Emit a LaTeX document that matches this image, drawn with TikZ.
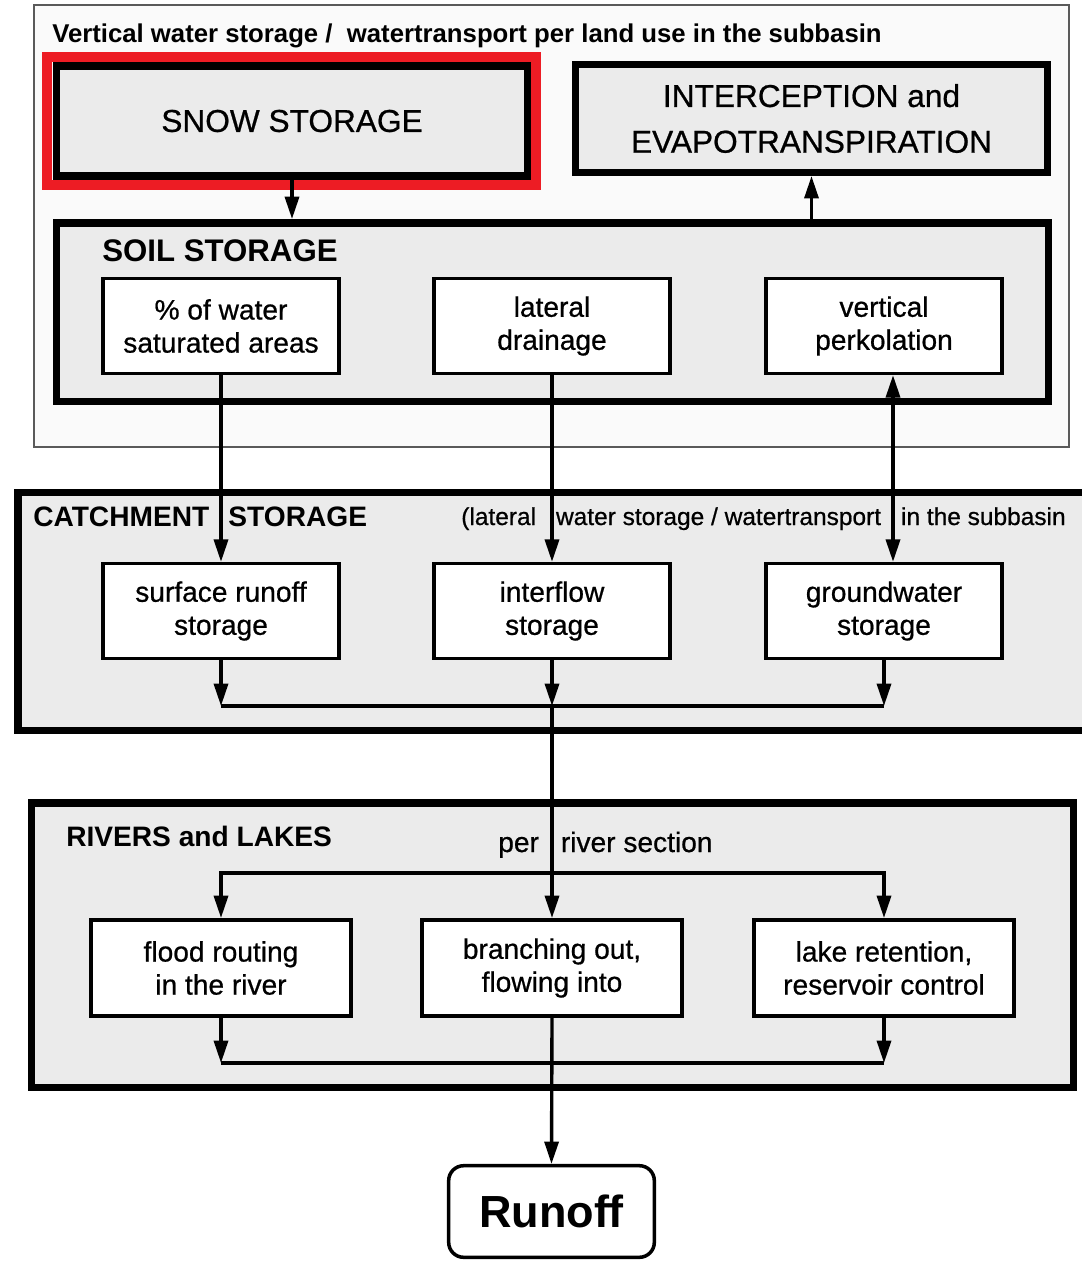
\documentclass[tikz,border=0pt]{standalone}
\usepackage{fontspec}
\setmainfont{Liberation Sans}
\newfontfamily\medfont{Liberation Sans}[FakeBold=0.7]
\usetikzlibrary{positioning,arrows.meta,calc}
\definecolor{boxgray}{HTML}{EBEBEB}
\definecolor{paleback}{HTML}{FAFAFA}
\definecolor{framegray}{HTML}{5A5A5A}
\definecolor{snowred}{HTML}{ED1C24}

\begin{document}
\begin{tikzpicture}[
    x=0.025cm, y=-0.025cm,
    >={Triangle[length=0.56cm,width=0.35cm]},
    every node/.style={inner sep=0pt},
    panel/.style={draw, line width=5.3pt, fill=boxgray},
    bigbox/.style={panel, align=center, font=\medfont\fontsize{22.5}{32.5}\selectfont},
    subbox/.style={
        draw, line width=2.5pt, fill=white, align=center,
        minimum width=5.89cm, minimum height=2.37cm,
        font=\medfont\fontsize{20}{23.5}\selectfont
    },
    paneltitle/.style={anchor=base west, font=\bfseries\fontsize{20}{24}\selectfont},
    note/.style={anchor=base west, font=\medfont\fontsize{17.4}{21}\selectfont},
    arr/.style={->, line width=2.4pt},
    bar/.style={line width=2.4pt},
]
\useasboundingbox (0,0) rectangle (1081,1264);

% === Land use layer (top) ===
\node[draw=framegray, line width=1.1pt, fill=paleback,
    minimum width=25.875cm, minimum height=11.05cm] (landuse) at (551.5,226) {};
\node[anchor=base west, font=\bfseries\fontsize{18.3}{22}\selectfont] (landusetitle) at (52,42)
    {Vertical water storage /~~watertransport per land use in the subbasin};

% Snow storage, marked in red
\node[draw=snowred, line width=7.1pt, minimum width=12.225cm, minimum height=3.2cm] (snowmark) at (291.5,121) {};
\node[bigbox, minimum width=11.76cm, minimum height=2.76cm] (snow) at (292,121) {SNOW STORAGE};
\node[bigbox, minimum width=11.79cm, minimum height=2.69cm] (icept) at (811.5,118.5) {INTERCEPTION and\\EVAPOTRANSPIRATION};

% Soil storage
\node[panel, minimum width=24.79cm, minimum height=4.46cm] (soil) at (552.5,312) {};
\node[paneltitle, font=\bfseries\fontsize{22.2}{26}\selectfont] (soiltitle) at (102,261) {SOIL STORAGE};
\node[subbox] (sat) at (221,326) {\% of water\\saturated areas};
\node[subbox] (drain) at (552,326) {lateral\\drainage};
\node[subbox] (perc) at (884,326) {vertical\\perkolation};

% === Catchment storage ===
\node[panel, minimum width=26.8cm, minimum height=5.94cm] (catch) at (554,611.5) {};
\node[paneltitle] (catchtitle) at (33,526) {CATCHMENT\hspace{0.48cm}STORAGE};
\node[note] (catchnote) at (461,525)
    {(lateral\hspace{0.5cm}water storage / watertransport\hspace{0.5cm}in the subbasin};
\node[subbox] (surf) at (221,611) {surface runoff\\storage};
\node[subbox] (iflow) at (552,611) {interflow\\storage};
\node[subbox] (gwater) at (884,611) {groundwater\\storage};

% === Rivers and lakes ===
\node[panel, minimum width=26.04cm, minimum height=7.11cm] (rivers) at (552.5,945) {};
\node[paneltitle] (riverstitle) at (66,846) {RIVERS and LAKES};
\node[note, font=\medfont\fontsize{20}{24}\selectfont] (rivernote) at (498,852) {per\hspace{0.55cm}river section};
\node[subbox, minimum width=6.49cm, minimum height=2.41cm] (flood) at (221,968) {flood routing\\in the river};
\node[subbox, minimum width=6.49cm, minimum height=2.41cm] (branch) at (552,968) {branching out,\\flowing into};
\node[subbox, minimum width=6.49cm, minimum height=2.41cm] (lake) at (884,968) {lake retention,\\reservoir control};

% Outlet
\node[draw, line width=2.5pt, rounded corners=0.375cm, fill=white,
    minimum width=5.14cm, minimum height=2.29cm,
    font=\bfseries\fontsize{32}{38}\selectfont] (runoff) at (551.5,1211.5) {Runoff};

% Junctions
\coordinate (cmerge) at (552,706);
\coordinate (rsplit) at (552,873);
\coordinate (rmerge) at (552,1063);

% === Vertical flows ===
\draw[arr] (snow.south) -- (snow.south |- soil.north);
\draw[arr] (icept.south |- soil.north) -- (icept.south);
\draw[arr] (sat.south) -- (surf.north);
\draw[arr] (drain.south) -- (iflow.north);
\draw[arr, <->] ([xshift=0.225cm]perc.south) -- ([xshift=0.225cm]gwater.north);

% Catchment outflow
\draw[arr] (surf.south) -- (surf.south |- cmerge);
\draw[arr] (iflow.south) -- (cmerge);
\draw[arr] (gwater.south) -- (gwater.south |- cmerge);
\draw[bar] (surf.south |- cmerge) -- (gwater.south |- cmerge);
\draw[arr] (cmerge) -- (branch.north);

% River section
\draw[arr] (rsplit) -| (flood.north);
\draw[arr] (rsplit) -| (lake.north);
\draw[arr] (flood.south) -- (flood.south |- rmerge);
\draw[arr] (lake.south) -- (lake.south |- rmerge);
\draw[bar] (flood.south |- rmerge) -- (lake.south |- rmerge);
\draw[arr] (branch.south) -- (runoff.north);

\end{tikzpicture}
\end{document}
